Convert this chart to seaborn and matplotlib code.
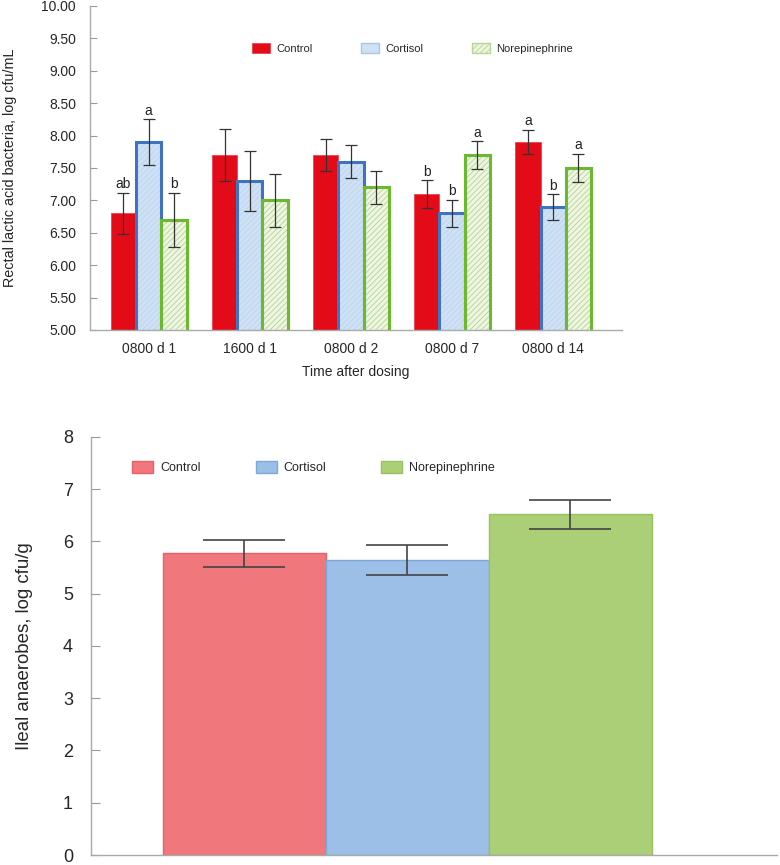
import matplotlib
matplotlib.use("Agg")
import matplotlib.pyplot as plt
from matplotlib.patches import Patch, Rectangle
import seaborn as sns
import pandas as pd
import numpy as np

# ---------------- data ----------------
times = ['0800 d 1', '1600 d 1', '0800 d 2', '0800 d 7', '0800 d 14']
treatments = ['Control', 'Cortisol', 'Norepinephrine']
control = [6.80, 7.70, 7.70, 7.10, 7.90]
cortisol = [7.90, 7.30, 7.60, 6.80, 6.90]
norepi = [6.70, 7.00, 7.20, 7.70, 7.50]
control_se = [0.32, 0.40, 0.25, 0.21, 0.19]
cortisol_se = [0.355, 0.46, 0.25, 0.21, 0.195]
norepi_se = [0.42, 0.41, 0.26, 0.21, 0.22]
control_letters = ['ab', '', '', 'b', 'a']
cortisol_letters = ['a', '', '', 'b', 'b']
norepi_letters = ['b', '', '', 'a', 'a']

ileal_groups = ['Control', 'Cortisol', 'Norepinephrine']
ileal_values = [5.77, 5.64, 6.52]
ileal_se = [0.265, 0.29, 0.275]

# ---------------- style ----------------
sns.set_theme(style='white')
plt.rcParams['font.family'] = ['Liberation Sans', 'DejaVu Sans']
plt.rcParams['hatch.linewidth'] = 0.6

fig = plt.figure(figsize=(7.8, 8.65), dpi=100)
ax1 = fig.add_axes([0.1154, 0.6185, 0.682, 0.3746])
ax2 = fig.add_axes([0.1167, 0.01156, 0.880, 0.4835])

# ---------------- top chart ----------------
df1 = pd.DataFrame({
    'Time': times * 3,
    'Treatment': [t for t in treatments for _ in times],
    'Value': control + cortisol + norepi,
})
top_fill = {'Control': '#E30B17', 'Cortisol': '#CFE1F4', 'Norepinephrine': '#EEF5E2'}
sns.barplot(data=df1, x='Time', y='Value', hue='Treatment', hue_order=treatments,
            palette=top_fill, width=0.75, errorbar=None, legend=False, ax=ax1,
            saturation=1)

edge_cols = {'Control': '#F04050', 'Cortisol': '#3F73C0', 'Norepinephrine': '#6BB92E'}
hatch_cols = {'Control': None, 'Cortisol': '#BCD3EE', 'Norepinephrine': '#B5D591'}
ses = [control_se, cortisol_se, norepi_se]
vals = [control, cortisol, norepi]
letters = [control_letters, cortisol_letters, norepi_letters]
for i, (trt, cont) in enumerate(zip(treatments, ax1.containers)):
    for j, bar in enumerate(cont):
        x0, w = bar.get_x(), bar.get_width()
        y0, h = bar.get_y(), bar.get_height()
        if trt == 'Control':
            bar.set_edgecolor(edge_cols[trt])
            bar.set_linewidth(0.6)
        else:
            bar.set_hatch('//////')
            bar.set_edgecolor(hatch_cols[trt])
            bar.set_linewidth(0)
            ax1.add_patch(Rectangle((x0, y0), w, h, fill=False,
                                    edgecolor=edge_cols[trt], linewidth=2.2,
                                    zorder=bar.get_zorder() + 0.1))
        xc = x0 + w / 2
        v = vals[i][j]
        se = ses[i][j]
        ax1.errorbar(xc, v, yerr=se, fmt='none', ecolor='#333333',
                     elinewidth=0.9, capsize=4.5, capthick=0.9, zorder=5)
        if letters[i][j]:
            ax1.annotate(letters[i][j], (xc, v + se), xytext=(0, 1.0),
                         textcoords='offset points', ha='center', va='bottom',
                         fontsize=10, color='#222222')

ax1.set_ylim(5, 10)
ax1.set_xlim(-0.58, 4.68)
ax1.set_yticks(np.arange(5, 10.01, 0.5))
ax1.set_yticklabels([f'{t:.2f}' for t in np.arange(5, 10.01, 0.5)])
ax1.tick_params(axis='y', direction='in', length=5, width=0.8, color='#999999',
                labelsize=10, pad=10, left=True)
ax1.tick_params(axis='x', length=0, labelsize=10, pad=9)
for s in ['top', 'right']:
    ax1.spines[s].set_visible(False)
for s in ['left', 'bottom']:
    ax1.spines[s].set_color('#AAAAAA')
    ax1.spines[s].set_linewidth(1.0)
ax1.set_xlabel('Time after dosing', fontsize=10, labelpad=6)
ax1.set_ylabel('Rectal lactic acid bacteria, log cfu/mL', fontsize=10.4)
ax1.yaxis.set_label_coords(-0.138, 0.5)

h1 = [Patch(facecolor=top_fill['Control'], edgecolor=edge_cols['Control'], linewidth=0.6),
      Patch(facecolor=top_fill['Cortisol'], edgecolor='#A9C6EA', linewidth=1.0),
      Patch(facecolor=top_fill['Norepinephrine'], edgecolor='#B5D591', linewidth=1.0,
            hatch='//////')]
ax1.legend(h1, treatments, loc='center left', bbox_to_anchor=(0.3045, 0.870),
           ncol=3, frameon=False, fontsize=8, handlelength=1.62, handleheight=1.08,
           handletextpad=0.55, columnspacing=4.4, borderpad=0, borderaxespad=0)

# ---------------- bottom chart ----------------
df2 = pd.DataFrame({'Group': ileal_groups, 'Value': ileal_values})
bot_fill = {'Control': '#F0787C', 'Cortisol': '#9BBFE6', 'Norepinephrine': '#ABCF76'}
bot_edge = {'Control': '#E8606A', 'Cortisol': '#7FA8DA', 'Norepinephrine': '#98C262'}
sns.barplot(data=df2, x='Group', y='Value', hue='Group', hue_order=ileal_groups,
            palette=bot_fill, width=1.0, errorbar=None, legend=False, ax=ax2,
            saturation=1)
bars = [b for c in ax2.containers for b in c]
bars = sorted(bars, key=lambda b: b.get_x())
for grp, bar, v, se in zip(ileal_groups, bars, ileal_values, ileal_se):
    bar.set_edgecolor(bot_edge[grp])
    bar.set_linewidth(1.0)
    xc = bar.get_x() + bar.get_width() / 2
    ax2.errorbar(xc, v, yerr=se, fmt='none', ecolor='#444444',
                 elinewidth=1.2, capsize=29.5, capthick=1.2, zorder=5)

ax2.set_ylim(0, 8)
ax2.set_xlim(-0.94, 3.27)
ax2.set_yticks(range(0, 9))
ax2.tick_params(axis='y', direction='in', length=6.5, width=0.8, color='#999999',
                labelsize=13, pad=13, left=True)
ax2.tick_params(axis='x', length=0, labelbottom=False)
ax2.set_xlabel('')
for s in ['top', 'right']:
    ax2.spines[s].set_visible(False)
for s in ['left', 'bottom']:
    ax2.spines[s].set_color('#AAAAAA')
    ax2.spines[s].set_linewidth(1.0)
ax2.set_ylabel('Ileal anaerobes, log cfu/g', fontsize=13.4)
ax2.yaxis.set_label_coords(-0.084, 0.5)

h2 = [Patch(facecolor=bot_fill[g], edgecolor=bot_edge[g], linewidth=1.0) for g in ileal_groups]
ax2.legend(h2, ileal_groups, loc='center left', bbox_to_anchor=(0.0597, 0.926),
           ncol=3, frameon=False, fontsize=9, handlelength=1.68, handleheight=1.12,
           handletextpad=0.56, columnspacing=4.4, borderpad=0, borderaxespad=0)

fig.savefig('out.png', dpi=100)
